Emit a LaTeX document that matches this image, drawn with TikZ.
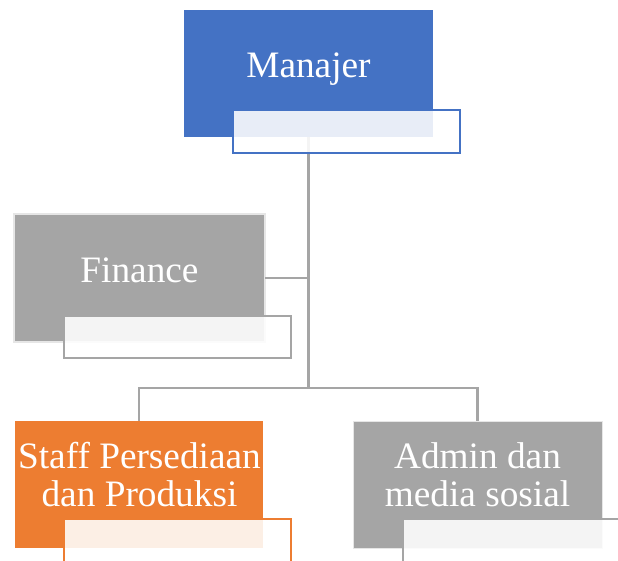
\documentclass[tikz,border=0pt]{standalone}
\usepackage{fontspec}
\setmainfont{Liberation Serif}
\definecolor{cblue}{HTML}{4472C4}
\definecolor{corange}{HTML}{ED7D31}
\definecolor{cgray}{HTML}{A5A5A5}
\definecolor{cedge}{HTML}{E6E6E6}
\tikzset{
  box/.style={inner sep=0pt, outer sep=0pt, minimum width=249pt, minimum height=127pt},
  tbox/.style={inner sep=0pt, outer sep=0pt, minimum width=227pt, minimum height=43pt, fill=white, fill opacity=0.88, line width=2pt},
  conn/.style={draw=cgray, line width=2.8pt},
  lbl/.style={anchor=base, align=center, text=white, inner sep=0pt, font=\fontsize{37.3}{38}\selectfont}
}
\begin{document}
\begin{tikzpicture}[x=1pt, y=-1pt]
\useasboundingbox (0,0) rectangle (618,560);
\clip (0,0) rectangle (618,560);
% main boxes
\node[box, fill=cblue] (man) at (308.5,73.5) {};
\node[box, fill=cgray, draw=cedge, line width=2pt, minimum width=251pt, minimum height=128pt] (fin) at (139.5,278) {};
\node[box, fill=corange, minimum width=248pt] (staff) at (139,484.5) {};
\node[box, fill=cgray, draw=cedge, line width=1pt] (admin) at (477.5,484.5) {};
% connectors
\coordinate (hub) at (man.south |- 0,388);
\draw[conn] (man.south) -- (hub);
\draw[conn] (fin.east) -- (fin.east -| hub);
\draw[conn] (hub) -| (staff.north);
\draw[conn] (hub) -| (admin.north);
% sub text boxes
\node[tbox, draw=cblue] (mansub) at (346.5,131.5) {};
\node[tbox, draw=cgray, minimum height=42pt] (finsub) at (177,337) {};
\node[tbox, draw=corange, minimum height=60pt] (staffsub) at (177,549) {};
\node[tbox, draw=cgray, minimum height=60pt] (adminsub) at (516,549) {};
% labels
\node[lbl] (manl) at (308.5,77) {Manajer};
\node[lbl] (finl) at (139.5,282) {Finance};
\node[lbl] (staffl) at (139.5,506) {Staff Persediaan\\dan Produksi};
\node[lbl] (adminl) at (477.5,506) {Admin dan\\media sosial};
\end{tikzpicture}
\end{document}
